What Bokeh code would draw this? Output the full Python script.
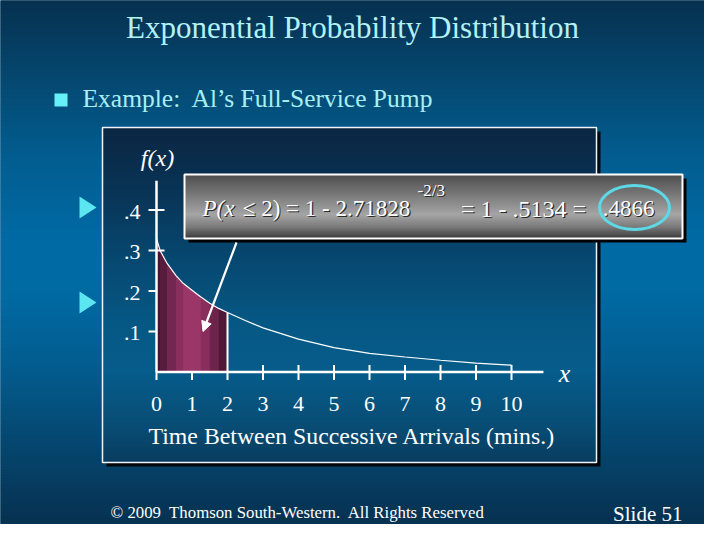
import numpy as np
from bokeh.plotting import figure
from bokeh.models import Range1d, Arrow, NormalHead
from bokeh.embed import file_html
from bokeh.resources import INLINE
from bokeh.core.properties import value

# ---------------- data ----------------
curve_x = [0, 0.1, 0.3, 0.55, 0.75, 1.0, 1.25, 1.5, 1.75, 2.0, 2.5, 3, 4, 5, 6, 7, 8, 9, 10]
curve_y = [0.330, 0.300, 0.268, 0.238, 0.219, 0.202, 0.185, 0.170, 0.157, 0.147,
           0.127, 0.109, 0.081, 0.060, 0.046, 0.037, 0.029, 0.022, 0.017]
shade_upto = 2
x_ticks = [0, 1, 2, 3, 4, 5, 6, 7, 8, 9, 10]
x_tick_labels = ["0", "1", "2", "3", "4", "5", "6", "7", "8", "9", "10"]
y_ticks = [0.1, 0.2, 0.3, 0.4]
y_tick_labels = [".1", ".2", ".3", ".4"]
x_axis_end = 10.9
y_axis_end = 0.472

NB = "\u00a0"
title_text = "Exponential Probability Distribution"
subtitle_text = "Example:" + NB + " Al\u2019s Full-Service Pump"
xlabel_text = "Time Between Successive Arrivals (mins.)"
footer_text = "\u00a9 2009" + NB + " Thomson South-Western." + NB + " All Rights Reserved"
slide_text = "Slide 51"
calc_a = "P(x"
calc_b = "\u2264 2) = 1 - 2.71828"
calc_sup = "-2/3"
calc_c = "= 1 - .5134 ="
calc_result = ".4866"

# ---------------- layout helpers (slide pixels -> data) ----------------
W, H, OFF = 704, 524, 8
X0, XS = 164.0, 35.5     # pixel of x=0, pixels per unit
Y0, YS = 379.5, 405.0    # pixel of y=0, pixels per unit


def dx(px):
    return (px - X0) / XS


def dy(py):
    return (Y0 - py) / YS


def lerp(stops, v):
    for (a0, c0), (a1, c1) in zip(stops, stops[1:]):
        if a0 <= v <= a1:
            t = (v - a0) / (a1 - a0)
            return "#%02x%02x%02x" % tuple(int(round(p + (q - p) * t)) for p, q in zip(c0, c1))
    c = stops[-1][1] if v > stops[-1][0] else stops[0][1]
    return "#%02x%02x%02x" % c


def bands(left_px, right_px, top_px, bottom_px, stops, step=2):
    L, R, T, B, C = [], [], [], [], []
    py = top_px
    while py < bottom_px:
        nb = min(py + step + 0.6, bottom_px)
        L.append(dx(left_px)); R.append(dx(right_px))
        T.append(dy(py)); B.append(dy(nb))
        C.append(lerp(stops, py + step / 2))
        py += step
    return dict(left=L, right=R, top=T, bottom=B, color=C)


SERIF = value("Liberation Serif")


def label(px, py, txt, size, color="#ffffff", align="center", style="normal"):
    p.text(x=[dx(px)], y=[dy(py)], text=[txt], text_align=align, text_baseline="middle",
           text_font=SERIF, text_font_size=size, text_font_style=style, text_color=color)


p = figure(width=W, height=H, x_range=Range1d(dx(OFF), dx(OFF + W)),
           y_range=Range1d(dy(OFF + H), dy(OFF)), output_backend="svg",
           toolbar_location=None, tools="", min_border=0,
           x_axis_location=None, y_axis_location=None)
p.grid.visible = False
p.outline_line_color = None
p.background_fill_color = "#05486f"
p.border_fill_color = "#05486f"

# slide background gradient
bg_stops = [(0, (7, 46, 76)), (100, (4, 76, 118)), (170, (2, 94, 145)), (250, (0, 106, 165)),
            (300, (0, 106, 163)), (370, (3, 93, 144)), (440, (5, 74, 116)), (500, (6, 57, 92)),
            (540, (7, 48, 78))]
b = bands(0, 720, 0, 540, bg_stops)
p.quad(left=b["left"], right=b["right"], top=b["top"], bottom=b["bottom"],
       fill_color=b["color"], line_color=None)

# chart panel
p.quad(left=dx(114), right=dx(608), top=dy(139), bottom=dy(474), fill_color="#000000",
       line_color=None, fill_alpha=0.9)
panel_stops = [(135, (10, 38, 66)), (200, (9, 52, 86)), (260, (7, 70, 110)), (330, (6, 88, 132)),
               (380, (6, 92, 138)), (430, (8, 78, 118)), (470, (9, 60, 95))]
b = bands(110, 604, 135, 470, panel_stops)
p.quad(left=b["left"], right=b["right"], top=b["top"], bottom=b["bottom"],
       fill_color=b["color"], line_color=None)
p.quad(left=dx(110), right=dx(604), top=dy(135), bottom=dy(470), fill_color=None,
       line_color="#f0f4f8", line_width=1.5)

# shaded area P(x <= 2)
sx = [x for x in curve_x if x <= shade_upto]
sy = curve_y[:len(sx)]
p.varea(x=sx, y1=[0] * len(sx), y2=sy, fill_color="#86305c")
mid = shade_upto / 2
for i in range(len(sx) - 1):
    xc = (sx[i] + sx[i + 1]) / 2
    t = min(abs(xc - mid) / mid, 1.0) ** 1.4
    c = lerp([(0, (160, 56, 108)), (1, (62, 18, 44))], t)
    p.varea(x=[sx[i], sx[i + 1]], y1=[0, 0], y2=[sy[i], sy[i + 1]], fill_color=c)

# density curve
p.line(curve_x, curve_y, line_color="#ffffff", line_width=1.2)
# right edge of shaded area
p.segment(x0=[shade_upto], y0=[0], x1=[shade_upto], y1=[sy[-1]], line_color="#ffffff", line_width=2)

# axes
p.segment(x0=[0], y0=[0], x1=[x_axis_end], y1=[0], line_color="#ffffff", line_width=2.5)
p.segment(x0=[0], y0=[0], x1=[0], y1=[y_axis_end], line_color="#ffffff", line_width=2.5)

# x ticks
up = [(7 if t > shade_upto else 0) / YS for t in x_ticks]
p.segment(x0=x_ticks, y0=[-8 / YS] * len(x_ticks), x1=x_ticks, y1=up,
          line_color="#ffffff", line_width=2)
# y ticks
inner = [(8 if v >= 0.3 else 0) / XS for v in y_ticks]
p.segment(x0=[-8 / XS] * len(y_ticks), y0=y_ticks, x1=inner, y1=y_ticks,
          line_color="#ffffff", line_width=2)

# tick labels
p.text(x=x_ticks, y=[dy(411)] * len(x_ticks), text=x_tick_labels, text_align="center",
       text_baseline="middle", text_font=SERIF, text_font_size="22px", text_color="#ffffff")
p.text(x=[dx(148)] * len(y_ticks), y=[v - 1.5 / YS for v in y_ticks], text=y_tick_labels,
       text_align="right", text_baseline="middle", text_font=SERIF, text_font_size="22px",
       text_color="#ffffff")

# axis titles
label(359.5, 443, xlabel_text, "23.8px")
label(165, 165, "f(x)", "24px", style="italic")
label(572, 381, "x", "26px", style="italic")

# callout box
p.quad(left=dx(196), right=dx(694), top=dy(186), bottom=dy(250), fill_color="#000000",
       line_color=None)
box_stops = [(182, (78, 78, 78)), (195, (105, 105, 105)), (222, (165, 165, 165)),
             (235, (120, 120, 120)), (246, (55, 55, 55))]
b = bands(192, 690, 182, 246, box_stops, step=1)
p.quad(left=b["left"], right=b["right"], top=b["top"], bottom=b["bottom"],
       fill_color=b["color"], line_color=None)
p.quad(left=dx(192), right=dx(690), top=dy(182), bottom=dy(246), fill_color=None,
       line_color="#ffffff", line_width=2)

for sh, col in ((1.2, "#2a2a2a"), (0, "#ffffff")):
    label(226 + sh, 216 + sh, calc_a, "23px", col, style="italic")
    label(334 + sh, 216 + sh, calc_b, "23px", col)
    label(425 + sh, 198 + sh, calc_sup, "17px", col, align="left")
    label(531 + sh, 216 + sh, calc_c, "24px", col)
    label(636 + sh, 216 + sh, calc_result, "23px", col)

p.ellipse(x=[dx(642)], y=[dy(215)], width=70 / XS, height=44 / YS, fill_color=None,
          line_color="#5cd8e6", line_width=3)

# slide bullets / markers
p.patches(xs=[[dx(87), dx(87), dx(104)], [dx(87), dx(87), dx(104)]],
          ys=[[dy(204), dy(226), dy(215)], [dy(299), dy(321), dy(310)]],
          fill_color="#5ce6f2", line_color=None)
p.quad(left=dx(62), right=dx(75), top=dy(101), bottom=dy(114), fill_color="#66f0f8",
       line_color=None)

# slide texts
label(360, 35, title_text, "31px", "#b3f2f4")
label(90, 106, subtitle_text, "25.5px", "#a8eff3", align="left")
label(118, 520, footer_text, "16.8px", align="left")
label(690, 521, slide_text, "21px", align="right")

# arrow from callout to shaded area
p.add_layout(Arrow(end=NormalHead(size=10, fill_color="#ffffff", line_color="#ffffff"),
                   x_start=dx(244), y_start=dy(250), x_end=dx(210.5), y_end=dy(339),
                   line_color="#ffffff", line_width=2.2))

html = file_html(p, INLINE)
html = html.replace("<body>", '<body style="background-color:#05486f;">', 1)
open("out.html", "w").write(html)
